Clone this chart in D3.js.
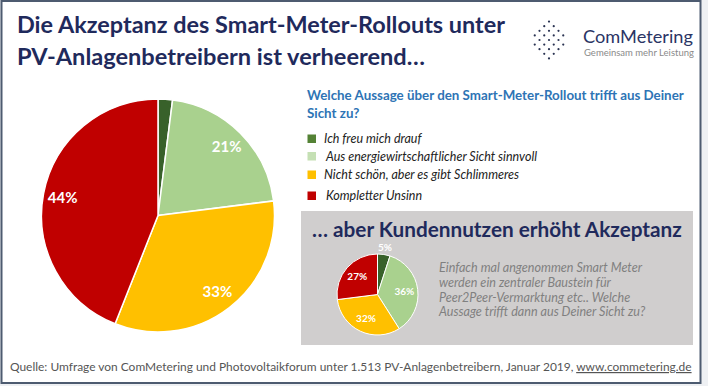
<!DOCTYPE html>
<html><head><meta charset="utf-8">
<script src="https://cdn.jsdelivr.net/npm/d3@7"></script>
<style>body{margin:0;background:#fff}svg{display:block}text{font-family:Lato,"Open Sans",sans-serif}</style>
</head><body>
<script>
const categories = ["Ich freu mich drauf","Aus energiewirtschaftlicher Sicht sinnvoll","Nicht schön, aber es gibt Schlimmeres","Kompletter Unsinn"];
const mainValues = [2, 21, 33, 44];
const mainLabels = ["", "21%", "33%", "44%"];
const smallValues = [5, 36, 32, 27];
const smallLabels = ["5%", "36%", "32%", "27%"];
const sliceColors = ["#38612a", "#a9d18e", "#ffc000", "#c00000"];
const legendColors = ["#548235", "#c5e0b4", "#ffc000", "#c00000"];

const W = 708, H = 386;
const svg = d3.select("body").append("svg").attr("width", W).attr("height", H);

// frame
svg.append("rect").attr("x",0).attr("y",0).attr("width",W).attr("height",H).attr("fill","#eef0f3");
svg.append("rect").attr("x",1.5).attr("y",1).attr("width",699).attr("height",382)
  .attr("fill","#fff").attr("stroke","#4d5b70").attr("stroke-width",2);

function fit(t, w){
  const n = t.node(); let fs = parseFloat(t.attr("font-size"));
  const cur = n.getComputedTextLength(); t.attr("font-size", (fs*w/cur).toFixed(2));
}

// Title
const navy = "#1f2a5c";
const t1 = svg.append("text").attr("x",17).attr("y",33).attr("font-size",26).attr("font-weight","bold").attr("fill",navy)
  .text("Die Akzeptanz des Smart-Meter-Rollouts unter");
fit(t1, 488);
const t2 = svg.append("text").attr("x",17).attr("y",65).attr("font-size",26).attr("font-weight","bold").attr("fill",navy)
  .text("PV-Anlagenbetreibern ist verheerend…");
fit(t2, 408);

// Logo
const logo = svg.append("g");
const dots = [];
for (let r=-4;r<=4;r++){
  for (let c=-3;c<=3;c++){
    const x = c*9.5 + (Math.abs(r)%2?4.75:0), y = r*4.6;
    if (Math.hypot(x,y) <= 18.5) dots.push([549+x, 40+y]);
  }
}
logo.selectAll("circle").data(dots).join("circle").attr("cx",d=>d[0]).attr("cy",d=>d[1]).attr("r",1.1).attr("fill","#2a3352");
const lg1 = svg.append("text").attr("x",583).attr("y",43).attr("font-size",22).attr("fill","#2b3565").text("ComMetering");
fit(lg1, 110);
const lg2 = svg.append("text").attr("x",584).attr("y",56).attr("font-size",10).attr("fill","#8a8a8a").text("Gemeinsam mehr Leistung");
fit(lg2, 110);

// Main pie
const pie = d3.pie().sort(null).value(d=>d);
const mainArc = d3.arc().innerRadius(0).outerRadius(116.5);
const mg = svg.append("g").attr("transform","translate(158,215.5)");
const mainData = pie(mainValues);
mg.selectAll("path").data(mainData).join("path").attr("d",mainArc)
  .attr("fill",(d,i)=>sliceColors[i]).attr("stroke","#fff").attr("stroke-width",1.5);
const mainLabelArc = d3.arc().innerRadius(97).outerRadius(97);
mg.selectAll("text.lbl").data(mainData).join("text").attr("class","lbl")
  .attr("transform",(d,i)=>{ const c = mainLabelArc.centroid(d); return `translate(${c[0]},${c[1]})`; })
  .attr("text-anchor","middle").attr("dy","0.35em").attr("font-size",15).attr("font-weight","bold").attr("fill","#fff")
  .text((d,i)=>mainLabels[i]);

// Legend
const q1 = svg.append("text").attr("x",307).attr("y",100).attr("font-size",14).attr("font-weight","bold").attr("fill","#2e74b5")
  .text("Welche Aussage über den Smart-Meter-Rollout trifft aus Deiner");
fit(q1, 377);
svg.append("text").attr("x",307).attr("y",118).attr("font-size",q1.attr("font-size")).attr("font-weight","bold").attr("fill","#2e74b5")
  .text("Sicht zu?");
const legY = [139, 156.5, 175, 196];
const legX = [324, 326, 324, 326];
const lg = svg.append("g");
lg.selectAll("rect").data(categories).join("rect")
  .attr("x",307.5).attr("y",(d,i)=>legY[i]-4.5).attr("width",8.5).attr("height",8.5).attr("fill",(d,i)=>legendColors[i]);
lg.selectAll("text").data(categories).join("text")
  .attr("x",(d,i)=>legX[i]).attr("y",(d,i)=>legY[i]+4).attr("font-size",12.5).attr("font-style","italic").attr("fill","#222")
  .text(d=>d);

// Gray box
svg.append("rect").attr("x",301).attr("y",211).attr("width",392).attr("height",134).attr("fill","#d0cece");
const bt = svg.append("text").attr("x",312).attr("y",237).attr("font-size",22).attr("font-weight","bold").attr("fill",navy)
  .text("… aber Kundennutzen erhöht Akzeptanz");
fit(bt, 370);

// Small pie
const smallArc = d3.arc().innerRadius(0).outerRadius(40.5);
const sg = svg.append("g").attr("transform","translate(377.5,294.5)");
const smallData = pie(smallValues);
sg.selectAll("path").data(smallData).join("path").attr("d",smallArc)
  .attr("fill",(d,i)=>sliceColors[i]).attr("stroke","#fff").attr("stroke-width",1);
const smallLabelArc = d3.arc().innerRadius(27).outerRadius(27);
sg.selectAll("text.lbl").data(smallData).join("text").attr("class","lbl")
  .attr("transform",(d,i)=>{
    let c = smallLabelArc.centroid(d);
    if (i===0) c = d3.arc().innerRadius(48).outerRadius(48).centroid(d);
    return `translate(${c[0]},${c[1]})`; })
  .attr("text-anchor","middle").attr("dy","0.35em").attr("font-size",10).attr("font-weight","bold").attr("fill","#fff")
  .text((d,i)=>smallLabels[i]);

const qLines = ["Einfach mal angenommen Smart Meter","werden ein zentraler Baustein für","Peer2Peer-Vermarktung etc.. Welche","Aussage trifft dann aus Deiner Sicht zu?"];
const qBase = [272, 287, 302, 316];
const ql = svg.append("g");
ql.selectAll("text").data(qLines).join("text").attr("x",439).attr("y",(d,i)=>qBase[i])
  .attr("font-size",13).attr("font-style","italic").attr("fill","#808080").text(d=>d);
fit(ql.select("text"), 203);
const qfs = ql.select("text").attr("font-size");
ql.selectAll("text").attr("font-size",qfs);

// Footer
const ft = svg.append("text").attr("x",10).attr("y",371).attr("font-size",12).attr("fill","#555");
ft.append("tspan").text("Quelle: Umfrage von ComMetering und Photovoltaikforum unter 1.513 PV-Anlagenbetreibern, Januar 2019, ");
ft.append("tspan").attr("text-decoration","underline").text("www.commetering.de");
fit(ft, 682);
</script>
</body></html>
